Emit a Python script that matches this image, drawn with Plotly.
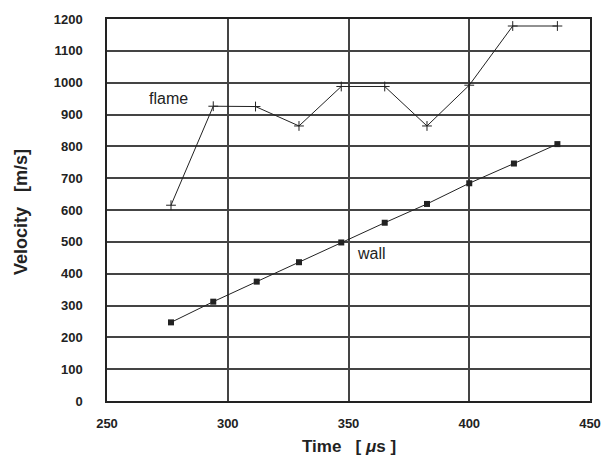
import plotly.graph_objects as go

flame_time = [276.5, 294, 311.5, 329.5, 347, 365, 382.5, 400, 418, 436.5]
flame_vel = [615, 926, 925, 864, 988, 988, 864, 992, 1178, 1178]
wall_time = [276.5, 294, 312, 329.5, 347, 365, 382.5, 400, 418.5, 436.5]
wall_vel = [247, 312, 375, 436, 498, 560, 619, 684, 746, 807]

x_ticks = [250, 300, 350, 400, 450]
y_ticks = list(range(0, 1201, 100))

font_fam = "Liberation Sans, Arial, sans-serif"

fig = go.Figure()
fig.add_trace(go.Scatter(
    x=flame_time, y=flame_vel, mode="lines+markers",
    line=dict(color="#222", width=1),
    marker=dict(symbol="cross-thin", size=7, line=dict(color="#222", width=1)),
    showlegend=False))
fig.add_trace(go.Scatter(
    x=wall_time, y=wall_vel, mode="lines+markers",
    line=dict(color="#222", width=1),
    marker=dict(symbol="square", size=6, color="#222"),
    showlegend=False))

fig.add_annotation(x=266.4, y=951, text="flame", showarrow=False, xanchor="left",
                   font=dict(family=font_fam, size=16, color="#222"))
fig.add_annotation(x=352.5, y=463, text="wall", showarrow=False, xanchor="left",
                   font=dict(family=font_fam, size=16, color="#222"))

fig.add_annotation(xref="paper", yref="paper", x=-0.178, y=0.495, xanchor="center", yanchor="middle",
                   text="<b>Velocity   [m/s]</b>", textangle=-90, showarrow=False,
                   font=dict(family=font_fam, size=18, color="#222"))
fig.add_annotation(xref="paper", yref="paper", x=0.5, y=-0.09, xanchor="center", yanchor="top",
                   text="<b>Time   [ <i>μ</i>s ]</b>", showarrow=False,
                   font=dict(family=font_fam, size=17, color="#222"))

fig.update_layout(
    width=613, height=459,
    margin=dict(l=107, r=16, t=15, b=58),
    paper_bgcolor="white", plot_bgcolor="white",
    font=dict(family=font_fam, size=13, color="#222"),
)
fig.update_xaxes(range=[250, 450], tickvals=x_ticks, ticktext=[f"<b>{v}</b>" for v in x_ticks],
                 showgrid=True, gridcolor="#444", gridwidth=1.5,
                 showline=True, linecolor="#222", linewidth=1.5, mirror=True,
                 ticks="", ticklabelstandoff=10, zeroline=False)
fig.update_yaxes(range=[0, 1200], tickvals=y_ticks, ticktext=[f"<b>{v}</b>" for v in y_ticks],
                 showgrid=True, gridcolor="#444", gridwidth=1.5,
                 showline=True, linecolor="#222", linewidth=1.5, mirror=True,
                 ticks="", ticklabelstandoff=20, zeroline=False)

fig.write_html("out.html")
